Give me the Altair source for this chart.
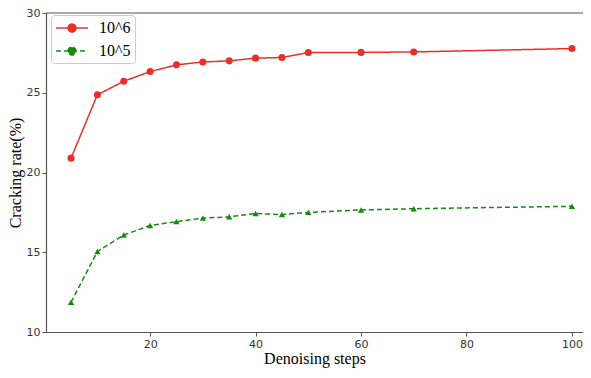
import altair as alt
import pandas as pd

steps = [5, 10, 15, 20, 25, 30, 35, 40, 45, 50, 60, 70, 100]
rate_1e6 = [20.9, 24.87, 25.72, 26.33, 26.75, 26.93, 27.0, 27.17, 27.21, 27.52, 27.53, 27.56, 27.77]
rate_1e5 = [11.87, 15.05, 16.08, 16.68, 16.92, 17.14, 17.22, 17.43, 17.36, 17.5, 17.65, 17.73, 17.88]
series_names = ["10^6", "10^5"]
colors = ["#e8302a", "#138a13"]

rows = []
for s, v in zip(steps, rate_1e6):
    rows.append({"steps": s, "rate": v, "series": series_names[0]})
for s, v in zip(steps, rate_1e5):
    rows.append({"steps": s, "rate": v, "series": series_names[1]})
df = pd.DataFrame(rows)

W, H = 537, 319
xs = alt.Scale(domain=[0.25, 102.1], nice=False, zero=False)
ys = alt.Scale(domain=[10, 30], nice=False, zero=False)
cs = alt.Scale(domain=series_names, range=colors)

circ = "M-1,0H3M0.5,0A0.5,0.5 0 1,1 1.5,0A0.5,0.5 0 1,1 0.5,0Z"

legend = alt.Legend(
    title=None, orient="none", legendX=5, legendY=2, symbolType=circ,
    labelFont="Liberation Serif", labelFontSize=16, labelColor="#000",
    symbolStrokeWidth=1.5, symbolSize=256, labelOffset=26, padding=4, rowPadding=6,
    strokeColor="#cccccc", fillColor="white", cornerRadius=3)

xaxis = alt.Axis(title="Denoising steps", values=[20, 40, 60, 80, 100], grid=False,
                 labelFont="DejaVu Sans", labelFontSize=11, labelColor="#333",
                 titleFont="Liberation Serif", titleFontSize=16, titleFontWeight="normal",
                 titleColor="#000", titlePadding=1, tickSize=4, tickColor="#555",
                 domainColor="#555", domainWidth=1.2)
yaxis = alt.Axis(title="Cracking rate(%)", values=[10, 15, 20, 25, 30], grid=False,
                 labelFont="DejaVu Sans", labelFontSize=11, labelColor="#333",
                 titleFont="Liberation Serif", titleFontSize=16, titleFontWeight="normal",
                 titleColor="#000", titlePadding=3, tickSize=4, tickColor="#555",
                 domainColor="#555", domainWidth=1.2)

base = alt.Chart(df)
color_enc = alt.Color("series:N", scale=cs, sort=series_names, legend=legend)
lines = base.mark_line(strokeWidth=1.5).encode(
    x=alt.X("steps:Q", scale=xs, axis=xaxis),
    y=alt.Y("rate:Q", scale=ys, axis=yaxis),
    color=color_enc,
    strokeDash=alt.StrokeDash("series:N", sort=series_names,
                              scale=alt.Scale(domain=series_names, range=[[1, 0], [5, 3]]),
                              legend=legend),
)
pts_a = base.mark_point(filled=True, opacity=1, shape="circle", size=50).encode(
    x="steps:Q", y="rate:Q", color=color_enc,
).transform_filter(alt.datum.series == series_names[0])
pts_b = base.mark_point(filled=True, opacity=1, shape="triangle-up", size=40).encode(
    x="steps:Q", y="rate:Q", color=color_enc,
).transform_filter(alt.datum.series == series_names[1])
top = alt.Chart(pd.DataFrame({"a": [0]})).mark_rule(color="#555", strokeWidth=1.2).encode(
    y=alt.value(0), x=alt.value(0), x2=alt.value(W))

chart = alt.layer(lines, pts_a, pts_b, top).properties(
    width=W, height=H,
    autosize=alt.AutoSizeParams(type="none"),
    padding={"left": 38, "top": 5, "right": 0, "bottom": 38},
).configure_view(stroke=None)

chart.save("out.html", embed_options={"renderer": "svg", "actions": False})
